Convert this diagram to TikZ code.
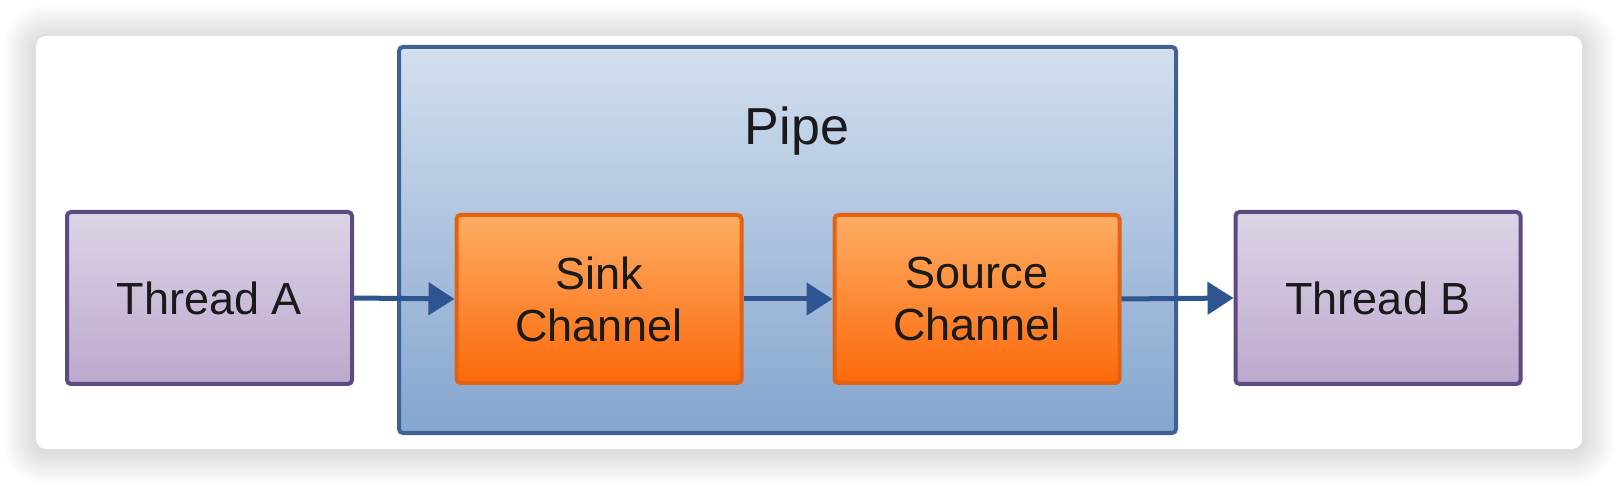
\documentclass[tikz,border=0pt]{standalone}
\usepackage{fontspec}
\setmainfont{Liberation Sans}
\usetikzlibrary{arrows.meta}
\definecolor{thrtop}{HTML}{DDD4E7}
\definecolor{thrbot}{HTML}{BBA9CD}
\definecolor{thrline}{HTML}{5C4A80}
\definecolor{pipetop}{HTML}{D3DFEE}
\definecolor{pipebot}{HTML}{84A5CF}
\definecolor{pipeline}{HTML}{3E6296}
\definecolor{chtop}{HTML}{FDAC64}
\definecolor{chbot}{HTML}{FC690A}
\definecolor{chline}{HTML}{E6610E}
\definecolor{arrowc}{HTML}{2F5590}
\definecolor{txt}{HTML}{1A1A1A}
\begin{document}
\begin{tikzpicture}[x=0.5pt,y=-0.5pt,
  threadbox/.style={draw=thrline, line width=2pt, top color=thrtop, bottom color=thrbot,
    rounded corners=2pt, minimum width=142.5pt, minimum height=86pt, inner sep=0pt,
    text=txt, font=\fontsize{22.5pt}{26pt}\selectfont},
  chanbox/.style={draw=chline, line width=2pt, top color=chtop, bottom color=chbot,
    rounded corners=2pt, minimum width=142.5pt, minimum height=84pt, inner sep=0pt,
    text=txt, align=center, font=\fontsize{22.5pt}{26pt}\selectfont},
  pipebox/.style={draw=pipeline, line width=2pt, top color=pipetop, bottom color=pipebot,
    rounded corners=2pt, minimum width=388.5pt, minimum height=193pt, inner sep=0pt},
  pipelbl/.style={text=txt, inner sep=0pt, font=\fontsize{26pt}{30pt}\selectfont},
  flow/.style={draw=arrowc, line width=2.5pt, -{Triangle[length=13pt,width=16pt]}}]
\useasboundingbox (0,0) rectangle (1618,486);
\fill[white] (0,0) rectangle (1618,486);
% card shadow
\foreach \i [evaluate=\i as \r using (10+\i)*0.5] in {1,...,34}
  \fill[black, opacity=0.0055, rounded corners=\r pt] (36-\i,38-\i) rectangle (1582+\i,451+\i);
\fill[white, rounded corners=5pt] (36,36) rectangle (1582,449);
% boxes
\node[pipebox] (pipe) at (787.5,240) {};
\node[pipelbl, anchor=base] (pipelabel) at (797,145) {Pipe};
\node[threadbox] (ta) at (209.5,298) {Thread A};
\node[threadbox] (tb) at (1378,298) {Thread B};
\node[chanbox] (sink) at (599,299) {Sink\\Channel};
\node[chanbox] (source) at (977,299) {Source\\Channel};
% arrows
\draw[flow] (ta.east) -- (sink.west);
\draw[flow] (sink.east) -- (source.west);
\draw[flow] (source.east) -- (tb.west);
\end{tikzpicture}
\end{document}
